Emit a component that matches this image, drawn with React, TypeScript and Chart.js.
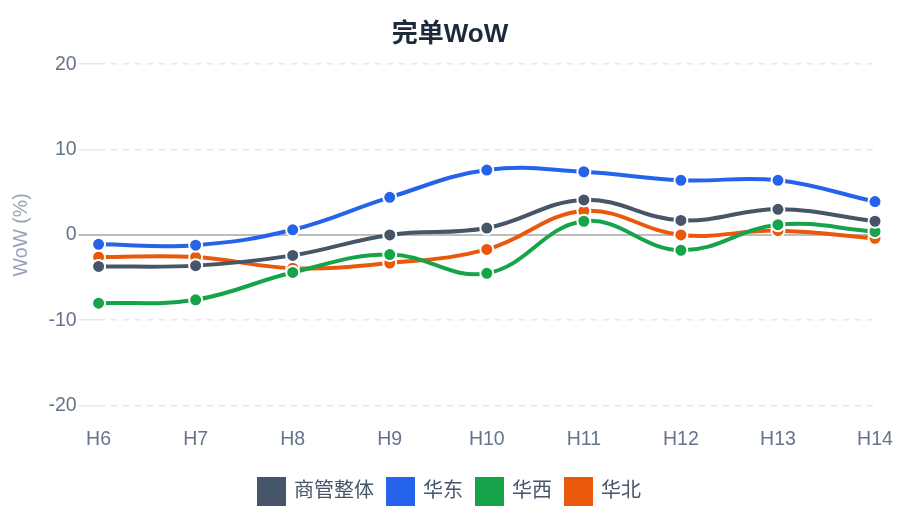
import React, { useEffect, useRef } from "react";
import { Chart, registerables } from "chart.js";

Chart.register(...registerables);

const categories = ["H6", "H7", "H8", "H9", "H10", "H11", "H12", "H13", "H14"];
const overall = [-3.7, -3.6, -2.4, 0.0, 0.8, 4.1, 1.7, 3.0, 1.6];
const east = [-1.1, -1.2, 0.6, 4.4, 7.6, 7.4, 6.4, 6.4, 3.9];
const west = [-8.0, -7.6, -4.4, -2.3, -4.5, 1.6, -1.8, 1.2, 0.4];
const north = [-2.6, -2.6, -3.9, -3.3, -1.7, 2.8, 0.0, 0.5, -0.4];
const yTicks = [-20, -10, 0, 10, 20];

const FONT = "'Liberation Sans', Arial, 'Noto Sans CJK SC', sans-serif";
const TICK_LEN = 20;

function ds(label: string, data: number[], color: string) {
  return {
    label,
    data,
    borderColor: color,
    backgroundColor: color,
    borderWidth: 4,
    tension: 0.4,
    pointRadius: 6.5,
    pointHoverRadius: 6.5,
    pointBackgroundColor: color,
    pointBorderColor: "#ffffff",
    pointBorderWidth: 2,
  };
}

export default function App() {
  const ref = useRef<HTMLCanvasElement | null>(null);
  useEffect(() => {
    if (!ref.current) return;
    const chart = new Chart(ref.current, {
      type: "line",
      data: {
        labels: categories,
        datasets: [
          ds("商管整体", overall, "#475569"),
          ds("华东", east, "#2563eb"),
          ds("华西", west, "#16a34a"),
          ds("华北", north, "#ea580c"),
        ],
      },
      options: {
        animation: false,
        responsive: true,
        maintainAspectRatio: false,
        layout: { padding: { left: 6, right: 6, top: 8, bottom: 6 } },
        plugins: {
          title: {
            display: true,
            text: "完单WoW",
            color: "#1e293b",
            font: { family: FONT, size: 26, weight: "bold" },
            padding: { top: 11, bottom: 14 },
          },
          legend: {
            position: "bottom",
            labels: {
              color: "#475569",
              font: { family: FONT, size: 20 },
              boxWidth: 25,
              boxHeight: 25,
              padding: 14,
            },
          },
          tooltip: { enabled: false },
        },
        scales: {
          x: {
            offset: false,
            grid: { display: false },
            border: { display: false },
            ticks: { color: "#64748b", font: { family: FONT, size: 19.5 }, padding: 14 },
            afterFit: (scale: any) => {
              scale.paddingRight = 25;
            },
          },
          y: {
            min: -20,
            max: 20,
            afterBuildTicks: (axis: any) => {
              axis.ticks = yTicks.map((v) => ({ value: v }));
            },
            border: { display: false, dash: [6, 6] },
            grid: {
              color: (ctx: any) => (ctx.tick && ctx.tick.value === 0 ? "rgba(0,0,0,0)" : "#e2e8f0"),
              lineWidth: 1.5,
              tickLength: TICK_LEN,
              tickColor: (ctx: any) => (ctx.tick && ctx.tick.value === 0 ? "rgba(0,0,0,0)" : "#e2e8f0"),
            },
            ticks: { color: "#64748b", font: { family: FONT, size: 19.5 }, padding: 2 },
            title: {
              display: true,
              text: "WoW (%)",
              color: "#94a3b8",
              font: { family: FONT, size: 19.5 },
              padding: { top: 4, bottom: 13 },
            },
          },
        },
      },
      plugins: [
        {
          id: "zeroSolid",
          beforeDatasetsDraw(c: any) {
            const y = c.scales.y.getPixelForValue(0);
            const { left, right } = c.chartArea;
            const ctx = c.ctx;
            ctx.save();
            ctx.strokeStyle = "#bdbdbd";
            ctx.lineWidth = 2;
            ctx.setLineDash([]);
            ctx.beginPath();
            ctx.moveTo(left - TICK_LEN, y);
            ctx.lineTo(right, y);
            ctx.stroke();
            ctx.restore();
          },
        },
      ],
    } as any);
    return () => chart.destroy();
  }, []);
  return (
    <div style={{ position: "fixed", left: 0, top: 0, width: 900, height: 520, background: "#fff" }}>
      <canvas ref={ref} />
    </div>
  );
}
